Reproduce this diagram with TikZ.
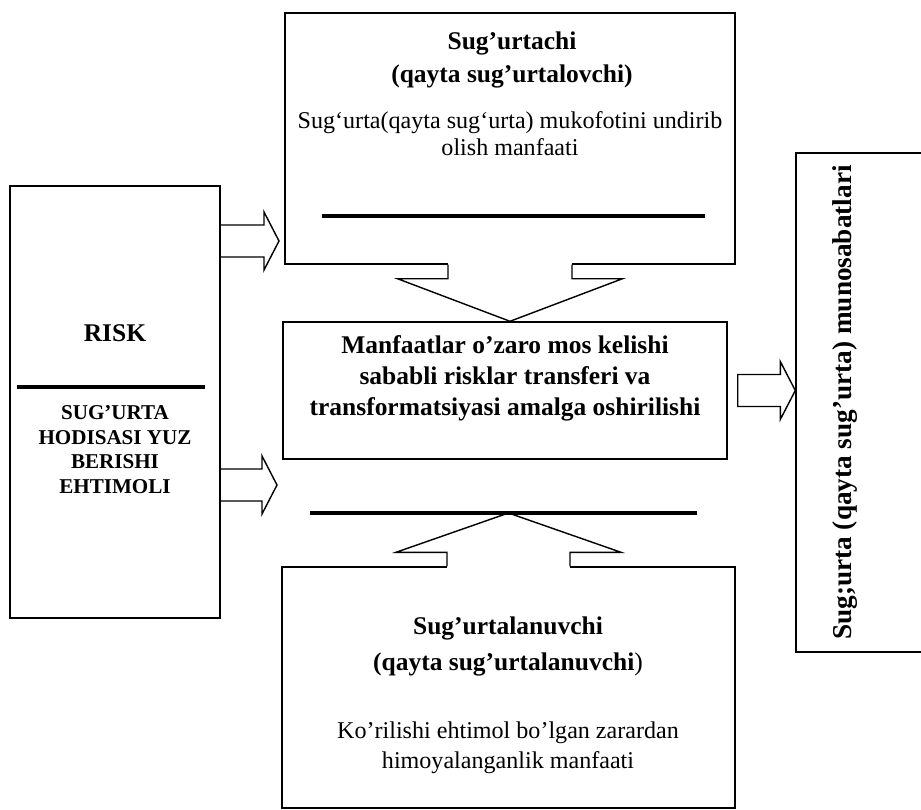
\documentclass[tikz,border=0pt]{standalone}
\usepackage{fontspec}
\setmainfont{Liberation Serif}
\usepackage{tikz}
\usetikzlibrary{shapes,arrows,positioning,calc}
\tikzstyle{block} = [rectangle, draw, line width=0.8pt, inner sep=0pt]
\tikzstyle{head} = [font=\fontsize{14.5}{19.3}\selectfont\bfseries, align=center, inner sep=0pt]
\tikzstyle{plain} = [font=\fontsize{13.7}{15.3}\selectfont, align=center, inner sep=0pt]
\tikzstyle{bar} = [draw, line width=1.8pt]
\tikzstyle{fat} = [draw, line width=0.8pt, line join=miter]
\newcommand{\fatright}[2]{\draw[fat] ($(#1)+(0,0.32)$) -- ($(#2)+(-0.3,0.32)$) -- ($(#2)+(-0.3,0.58)$) -- (#2)
    -- ($(#2)+(-0.3,-0.58)$) -- ($(#2)+(-0.3,-0.32)$) -- ($(#1)+(0,-0.32)$)}

\begin{document}
\begin{tikzpicture}
    \path [use as bounding box, clip] (0,0) rectangle (18.42,-16.2);
    % Place nodes
    \node [block, minimum width=4.2cm, minimum height=8.64cm] (risk) at (2.3,-8.04) {};
    \node [head] (risktitle) at (2.3,-6.66) {RISK};
    \node [head, font=\fontsize{12}{13.9}\selectfont\bfseries] (riskbody) at (2.3,-8.99) {SUG'URTA\\ HODISASI YUZ\\ BERISHI\\ EHTIMOLI};

    \node [block, minimum width=9cm, minimum height=5.02cm] (insurer) at (10.2,-2.77) {};
    \node [head] (insurertitle) at (10.24,-1.2) {Sug'urtachi\\ (qayta sug'urtalovchi)};
    \node [plain] (insurerbody) at (10.2,-2.67) {Sug`urta(qayta sug`urta) mukofotini undirib\\ olish manfaati};

    \node [block, minimum width=8.88cm, minimum height=2.74cm] (deal) at (10.1,-7.81) {};
    \node [head, font=\fontsize{14.5}{17.6}\selectfont\bfseries] (dealtext) at (10.1,-7.57) {Manfaatlar o'zaro mos kelishi\\ sababli risklar transferi va\\ transformatsiyasi amalga oshirilishi};

    \node [block, minimum width=9.06cm, minimum height=4.82cm] (insured) at (10.17,-13.75) {};
    \node [head, font=\fontsize{14.5}{21}\selectfont\bfseries] (insuredtitle) at (10.16,-12.93) {Sug'urtalanuvchi\\ (qayta sug'urtalanuvchi{\mdseries)}};
    \node [plain, font=\fontsize{13.7}{17}\selectfont] (insuredbody) at (10.16,-14.96) {Ko'rilishi ehtimol bo'lgan zarardan\\ himoyalanganlik manfaati};

    \node [block, minimum width=3.2cm, minimum height=9.98cm] (rel) at (17.52,-8.05) {};
    \node [head, font=\fontsize{15.5}{18}\selectfont\bfseries, rotate=90] (reltext) at (16.9,-8.05) {Sug;urta (qayta sug'urta) munosabatlari};

    % Bars
    \path [bar] (0.34,-7.74) -- (4.10,-7.74);
    \path [bar] (6.44,-4.32) -- (14.1,-4.32);
    \coordinate (baseL) at (6.2,-10.26);
    \coordinate (baseR) at (13.94,-10.26);
    \path [bar] (baseL) -- (baseR);

    % Draw edges
    \coordinate (upTip) at (5.58,-4.82);
    \coordinate (lowTip) at (5.54,-9.7);
    \fatright{risk.east |- upTip}{upTip};
    \fatright{risk.east |- lowTip}{lowTip};
    \fatright{$(deal.east)+(0.2,0)$}{rel.west |- deal.east} -- cycle;

    \coordinate (downTip) at (insurer.south |- deal.north);
    \fill [white] ($(insurer.south)+(-1.24,0.03)$) -- ($(insurer.south)+(-1.24,-0.28)$) -- ($(insurer.south)+(1.24,-0.28)$) -- ($(insurer.south)+(1.24,0.03)$) -- cycle;
    \draw [fat] ($(insurer.south)+(-1.24,0)$) -- ++(0,-0.28) -- ++(-1.01,0) -- (downTip)
        -- ($(insurer.south)+(2.25,-0.28)$) -- ++(-1.01,0) -- ++(0,0.28);

    \coordinate (upArrowTip) at (insured.north |- baseL);
    \fill [white] ($(insured.north)+(-1.23,-0.03)$) -- ($(insured.north)+(-1.23,0.28)$) -- ($(insured.north)+(1.23,0.28)$) -- ($(insured.north)+(1.23,-0.03)$) -- cycle;
    \draw [fat] ($(insured.north)+(-1.23,0)$) -- ++(0,0.28) -- ++(-1.02,0) -- (upArrowTip)
        -- ($(insured.north)+(2.25,0.28)$) -- ++(-1.02,0) -- ++(0,-0.28);
\end{tikzpicture}
\end{document}
